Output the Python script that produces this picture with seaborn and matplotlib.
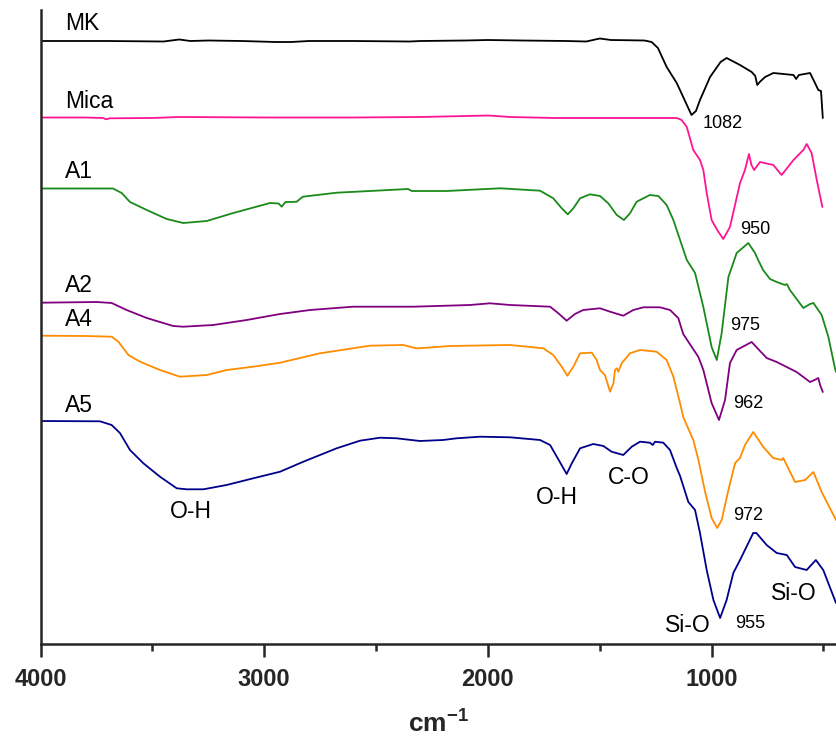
import numpy as np
import pandas as pd
import matplotlib
matplotlib.use("Agg")
import matplotlib.pyplot as plt
import seaborn as sns
from matplotlib.ticker import FixedLocator

# ---- data (wavenumber cm-1, stacked transmittance read as pixel rows; level = 644 - row) ----
mk_wn = [4000, 3850, 3700, 3450, 3380, 3330, 3250, 3100, 2950, 2880, 2800, 2600, 2350, 2300, 2100,
         2000, 1850, 1650, 1560, 1500, 1450, 1300, 1268, 1240, 1201, 1156, 1127, 1090, 1070, 1052,
         1007, 960, 933, 873, 821, 805, 796, 785, 761, 724, 634, 622, 610, 560, 538, 523, 511, 503]
mk_px = [41, 41, 41, 41.5, 39.5, 41, 40.5, 41, 42, 42, 41, 41, 41.5, 41, 40.5,
         40, 40.5, 41, 41.5, 38.5, 40, 40.5, 42, 48, 67, 83, 97, 115, 111, 100,
         77, 62, 58, 65, 72, 76, 85, 82, 77, 73, 75, 79, 75, 73, 83, 90, 91, 118]

mica_wn = [4000, 3800, 3720, 3707, 3690, 3500, 3380, 3000, 2600, 2300, 2000, 1900, 1700, 1500, 1300,
           1156, 1134, 1111, 1082, 1052, 1037, 1022, 1000, 975, 948, 918, 873, 851, 833, 822, 810,
           784, 724, 687, 634, 590, 575, 553, 530, 505]
mica_px = [117.5, 117.5, 118, 119.3, 118.3, 118, 117, 117.5, 117.5, 117, 115.5, 117, 118, 118, 118,
           118, 120, 127, 150, 160, 170, 193, 220, 230, 239, 227, 183, 170, 154, 165, 170,
           162, 165, 175, 160, 150, 144, 153, 180, 207]

a1_wn = [4000, 3800, 3676, 3637, 3600, 3525, 3436, 3362, 3257, 3138, 2974, 2935, 2922, 2905, 2880,
         2855, 2827, 2676, 2527, 2357, 2340, 2184, 1946, 1767, 1708, 1670, 1643, 1618, 1588, 1544,
         1499, 1462, 1424, 1392, 1365, 1335, 1276, 1238, 1201, 1171, 1141, 1111, 1074, 1037, 1000,
         977, 955, 925, 888, 836, 806, 792, 770, 739, 709, 672, 664, 650, 590, 560, 545, 508,
         478, 449, 444]
a1_px = [188.5, 188.5, 188.5, 193, 202, 210, 219, 223, 221, 213, 203, 203.5, 206.7, 202, 202,
         201.7, 196.7, 192.7, 191, 189, 191, 191, 188.3, 190.7, 198.3, 208.3, 214.3, 208.3, 198.3, 194.3,
         196, 203.3, 215, 220, 213.3, 201.7, 195, 196, 205, 220, 240, 260, 273, 307, 347,
         360, 333, 277, 253, 243, 253, 260, 270, 279, 282, 285, 284, 290, 308, 304, 303, 315,
         337, 368, 372]

a2_wn = [4000, 3748, 3682, 3615, 3525, 3407, 3362, 3228, 3078, 2929, 2795, 2602, 2334, 2080, 1991,
         1901, 1722, 1685, 1648, 1611, 1574, 1499, 1454, 1395, 1350, 1305, 1231, 1186, 1149, 1127,
         1059, 1037, 1000, 967, 940, 918, 888, 821, 754, 709, 620, 560, 540, 523, 515, 503]
a2_px = [302.7, 302, 303, 310, 318, 326, 326.7, 325, 320, 314, 310, 306.7, 306.7, 305, 303.3,
         305, 306.7, 313.3, 320.7, 314, 310, 308.3, 311.7, 315.7, 310, 307.3, 307.3, 310, 318, 334,
         357, 370, 403, 420, 400, 363, 350, 342, 358, 362, 372, 382, 380, 378, 385, 392]

a4_wn = [4000, 3800, 3682, 3652, 3607, 3555, 3466, 3377, 3257, 3168, 3049, 2929, 2751, 2527, 2378,
         2320, 2290, 2170, 1901, 1752, 1708, 1670, 1645, 1618, 1588, 1536, 1514, 1499, 1477, 1454,
         1439, 1432, 1424, 1417, 1402, 1365, 1320, 1246, 1201, 1171, 1141, 1127, 1082, 1059, 1029,
         1000, 975, 955, 925, 895, 873, 851, 814, 769, 725, 687, 680, 627, 582, 545, 508, 444]
a4_px = [335.7, 336, 336.7, 341.7, 355, 361.7, 370, 376.7, 375, 370, 366.7, 362.7, 353.3, 345.7, 345,
         348.3, 348, 346, 345, 348.3, 355, 366.7, 375.7, 366.7, 353.3, 352.7, 360, 370, 375, 391.7,
         383.3, 370, 368.3, 371.7, 363.3, 353.3, 350, 351.7, 360, 376.7, 403.3, 417, 440, 460, 492,
         518, 528, 520, 490, 463, 458, 445, 432, 447, 458, 460, 458, 482, 480, 472, 492, 520]

a5_wn = [4000, 3734, 3682, 3645, 3600, 3540, 3466, 3391, 3346, 3272, 3168, 3049, 2929, 2825, 2676,
         2572, 2482, 2408, 2304, 2200, 2140, 2035, 1901, 1767, 1722, 1692, 1648, 1625, 1588, 1529,
         1484, 1447, 1395, 1357, 1320, 1276, 1263, 1253, 1216, 1186, 1156, 1141, 1104, 1074, 1052,
         1022, 992, 962, 933, 903, 873, 814, 800, 754, 709, 664, 627, 575, 534, 501, 444]
a5_px = [421, 421.3, 425, 433, 450, 463.3, 476.7, 488.3, 489.3, 489.3, 485, 478.3, 471.7, 461.7, 448.3,
         440.7, 437.7, 438.3, 441, 440, 438.3, 436.7, 437.3, 440, 445, 456.7, 474, 463.3, 448.3, 444,
         446, 451.7, 455, 446.7, 441.7, 442.7, 445, 441.7, 442.7, 450, 468, 476, 502, 510, 533,
         570, 600, 618, 600, 573, 560, 533, 533, 545, 553, 555, 567, 570, 560, 570, 603]

series_names = ["MK", "Mica", "A1", "A2", "A4", "A5"]
series_wn = [mk_wn, mica_wn, a1_wn, a2_wn, a4_wn, a5_wn]
series_px = [mk_px, mica_px, a1_px, a2_px, a4_px, a5_px]
colors = ["#000000", "#ff1493", "#1a8a1a", "#800080", "#ff8c00", "#00008b"]

# labels: (text, wavenumber, level)
name_pos = [("MK", 3890, 620), ("Mica", 3890, 543), ("A1", 3890, 472),
            ("A2", 3890, 359), ("A4", 3890, 324), ("A5", 3890, 238)]
peak_labels = [("1082", 1041, 520), ("950", 873, 414), ("975", 918, 318),
               ("962", 904, 241), ("972", 904, 128), ("955", 895, 20)]
band_labels = [("O-H", 3421, 132), ("O-H", 1786, 147), ("C-O", 1464, 167),
               ("Si-O", 1209, 19), ("Si-O", 736, 50)]

# ---- plotting ----
sns.set_style("ticks")
plt.rcParams["font.family"] = ["Liberation Sans", "DejaVu Sans"]
plt.rcParams["mathtext.fontset"] = "custom"
plt.rcParams["mathtext.rm"] = "Liberation Sans"
plt.rcParams["mathtext.bf"] = "Liberation Sans:bold"

fig = plt.figure(figsize=(8.36, 7.40), dpi=100)
ax = fig.add_axes([40.5 / 836, 96 / 740, 1 - 40.5 / 836, (644 - 10) / 740])

TOP = 644
for name, wn, px, c in zip(series_names, series_wn, series_px, colors):
    df = pd.DataFrame({"wn": wn, "T": [TOP - p for p in px]})
    sns.lineplot(data=df, x="wn", y="T", color=c, linewidth=1.3, ax=ax,
                 estimator=None, sort=False)

for t, x, y in name_pos:
    ax.text(x, y, t, fontsize=16.5, ha="left", va="center", color="black")
for t, x, y in peak_labels:
    ax.text(x, y, t, fontsize=13, ha="left", va="center", color="black")
for t, x, y in band_labels:
    ax.text(x, y, t, fontsize=16.5, ha="left", va="center", color="black")

ax.set_xlim(4000, 444)
ax.set_ylim(0, 634)
ax.set_yticks([])
ax.set_ylabel("")
ax.xaxis.set_major_locator(FixedLocator([4000, 3000, 2000, 1000]))
ax.xaxis.set_minor_locator(FixedLocator([3500, 2500, 1500, 500]))
ax.set_xticklabels(["4000", "3000", "2000", "1000"], fontsize=17, fontweight="bold")
ax.tick_params(axis="x", which="major", length=9.5, width=1.8, pad=7.5, direction="out")
ax.tick_params(axis="x", which="minor", length=5, width=1.8, direction="out")
ax.set_xlabel(r"$\mathbf{cm^{-1}}$", fontsize=19, labelpad=14)

for s in ["top", "right"]:
    ax.spines[s].set_visible(False)
for s in ["left", "bottom"]:
    ax.spines[s].set_linewidth(1.8)
ax.patch.set_alpha(0)

fig.savefig("out.png", dpi=100)
